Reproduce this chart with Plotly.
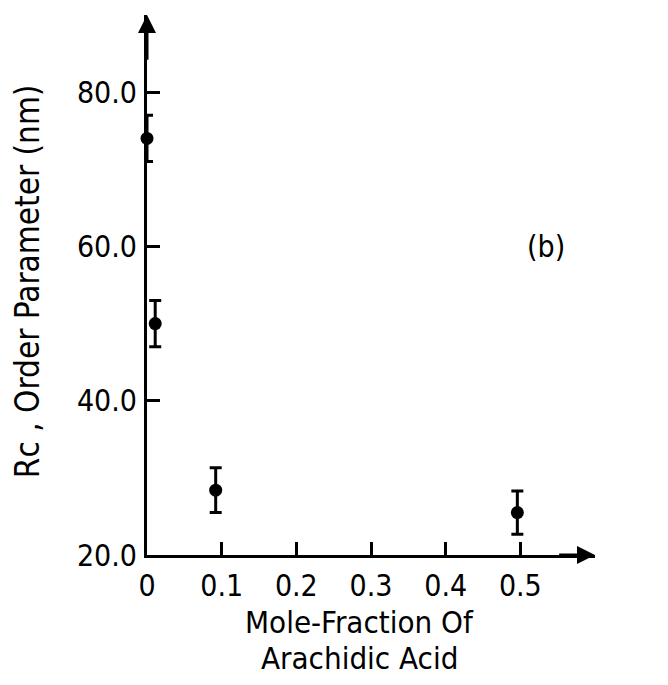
import plotly.graph_objects as go

mole_fraction = [0.0, 0.011, 0.092, 0.496]
rc_order = [74.0, 50.0, 28.4, 25.5]
rc_error = [3.0, 3.0, 2.9, 2.8]
x_tick_vals = [0, 0.1, 0.2, 0.3, 0.4, 0.5]
x_tick_text = ["0", "0.1", "0.2", "0.3", "0.4", "0.5"]
y_tick_vals = [20, 40, 60, 80]
y_tick_text = ["20.0", "40.0", "60.0", "80.0"]
x_title_lines = ["Mole-Fraction Of", "Arachidic Acid"]
y_title = "Rc , Order Parameter (nm)"

FONT = "DejaVu Sans Condensed, Liberation Sans Narrow, DejaVu Sans, sans-serif"

fig = go.Figure()
fig.add_trace(go.Scatter(
    x=mole_fraction, y=rc_order, mode="markers",
    marker=dict(color="black", size=13),
    error_y=dict(type="data", array=rc_error, color="black", thickness=3, width=6),
    cliponaxis=False, showlegend=False,
))

fig.update_layout(
    width=652, height=669,
    margin=dict(l=139, r=65, t=7, b=122),
    paper_bgcolor="white", plot_bgcolor="white",
    font=dict(family=FONT, color="black", size=30),
    xaxis=dict(
        range=[0, 0.6], showgrid=False, zeroline=False, automargin=False,
        showline=True, linecolor="black", linewidth=3,
        ticks="inside", ticklen=13, tickwidth=2.5, tickcolor="black",
        tickvals=x_tick_vals, ticktext=x_tick_text,
        ticklabelstandoff=2,
    ),
    yaxis=dict(
        range=[20, 90], showgrid=False, zeroline=False, automargin=False,
        showline=True, linecolor="black", linewidth=3,
        ticks="inside", ticklen=13, tickwidth=2.5, tickcolor="black",
        tickvals=y_tick_vals, ticktext=y_tick_text,
        ticklabelstandoff=1,
    ),
)

# axis titles
for line_text, ypos in zip(x_title_lines, [-0.124, -0.1907]):
    fig.add_annotation(x=0.475, y=ypos, xref="paper", yref="paper", text=line_text,
                       showarrow=False, xanchor="center", yanchor="middle", borderpad=0,
                       font=dict(size=31))
fig.add_annotation(x=-0.268, y=0.507, xref="paper", yref="paper", text=y_title,
                   showarrow=False, textangle=-90, xanchor="center", yanchor="middle",
                   font=dict(size=33))

# axis arrowheads
fig.add_annotation(x=0.6, y=20, ax=0.55, ay=20, xref="x", yref="y", axref="x", ayref="y",
                   showarrow=True, arrowhead=2, arrowsize=1.2, arrowwidth=3, arrowcolor="black", text="")
fig.add_annotation(x=0, y=90, ax=0, ay=84, xref="x", yref="y", axref="x", ayref="y",
                   showarrow=True, arrowhead=2, arrowsize=1.2, arrowwidth=3, arrowcolor="black", text="")
fig.add_annotation(x=0.534, y=60, xref="x", yref="y", text="(b)", showarrow=False,
                   font=dict(size=30))

fig.write_html("out.html")
